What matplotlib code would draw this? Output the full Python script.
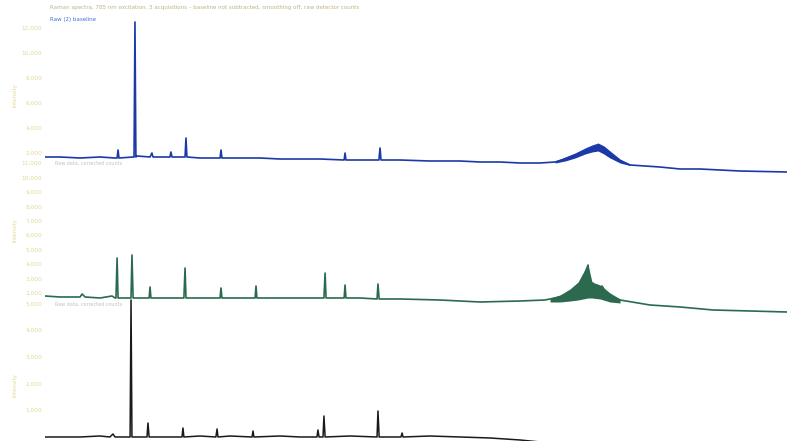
import numpy as np
import matplotlib.pyplot as plt

# Raman shift (cm-1) and intensity (counts)
p1_shift = [200, 265, 351, 437, 502, 511, 515, 519, 580, 584, 588, 592, 597, 653, 661,
            666, 739, 743, 748, 804, 808, 812, 868, 955, 959, 963, 1041, 1127, 1213, 1300,
            1386, 1490, 1494, 1498, 1559, 1640, 1645, 1649, 1731, 1860, 1990, 2076, 2162, 2249, 2335,
            2400, 2443, 2486, 2529, 2559, 2585, 2611, 2637, 2680, 2723, 2852, 2939, 3025, 3197, 3400]
p1_int = [1680, 1680, 1600, 1680, 1600, 1600, 2240, 1600, 1680, 1680, 12480, 1680, 1760, 1680, 2000,
          1680, 1680, 2080, 1680, 1680, 3200, 1680, 1600, 1600, 2240, 1600, 1600, 1600, 1520, 1520,
          1520, 1440, 2000, 1440, 1440, 1440, 2400, 1440, 1440, 1360, 1360, 1280, 1280, 1200, 1200,
          1280, 1520, 1840, 2160, 2320, 2320, 2000, 1680, 1360, 1040, 880, 720, 720, 560, 480]
# noise envelope of the broad band
p1_band_shift = [2400, 2443, 2486, 2529, 2559, 2585, 2611, 2637, 2680, 2723]
p1_band_hi = [1360, 1680, 2000, 2400, 2640, 2800, 2560, 2160, 1520, 1120]
p1_band_lo = [1200, 1360, 1600, 1920, 2080, 2160, 1920, 1600, 1200, 1000]

p2_shift = [200, 265, 351, 360, 373, 437, 489, 502, 506, 511, 515, 567, 571, 575, 580,
            610, 649, 653, 657, 739, 799, 804, 808, 868, 955, 959, 963, 1041, 1106, 1110,
            1114, 1213, 1300, 1403, 1408, 1412, 1490, 1494, 1498, 1559, 1632, 1636, 1641, 1731, 1904,
            2076, 2249, 2356, 2421, 2464, 2499, 2520, 2542, 2550, 2563, 2581, 2602, 2624, 2650, 2680,
            2809, 2939, 3081, 3240, 3400]
p2_int = [1792, 1723, 1723, 1931, 1723, 1654, 1792, 1654, 1654, 4424, 1654, 1654, 1654, 4632, 1654,
          1654, 1654, 2416, 1654, 1654, 1654, 3731, 1654, 1654, 1654, 2346, 1654, 1654, 1654, 2485,
          1654, 1654, 1654, 1654, 3385, 1654, 1654, 2554, 1654, 1654, 1585, 2623, 1585, 1585, 1515,
          1377, 1446, 1515, 1723, 2000, 2485, 3039, 3939, 2208, 2693, 2069, 2485, 1931, 1723, 1515,
          1169, 1031, 823, 754, 684]
p2_band_shift = [2378, 2421, 2464, 2499, 2520, 2542, 2559, 2594, 2637, 2680]
p2_band_hi = [1654, 1862, 2277, 2762, 3385, 3939, 2762, 2554, 2000, 1585]
p2_band_lo = [1377, 1377, 1446, 1515, 1585, 1654, 1654, 1585, 1377, 1308]

p3_shift = [200, 351, 437, 480, 493, 502, 567, 571, 575, 610, 640, 644, 649, 739, 791,
            795, 799, 868, 937, 942, 946, 998, 1093, 1097, 1101, 1214, 1300, 1373, 1377, 1382,
            1399, 1403, 1408, 1515, 1632, 1636, 1641, 1688, 1735, 1740, 1744, 1860, 1990, 2119, 2249,
            2421]
p3_int = [0, 0, 37, 0, 112, 0, 0, 5124, 0, 0, 0, 524, 0, 0, 0,
          337, 0, 37, 0, 299, 0, 37, 0, 224, 0, 37, 0, 0, 262, 0,
          0, 785, 0, 37, 0, 972, 0, 0, 0, 150, 0, 37, 0, -37, -112,
          -262]

p1_ticks = [2000, 4000, 6000, 8000, 10000, 12000]
p2_ticks = [2000, 3000, 4000, 5000, 6000, 7000, 8000, 9000, 10000, 11000]
p3_ticks = [1000, 2000, 3000, 4000, 5000]

W, H = 787, 441
fig = plt.figure(figsize=(W / 100, H / 100), dpi=100)
fig.patch.set_facecolor('white')

left = 45 / W
width = 1 - left
tick_col = '#e3d998'


def make_ax(top_px, bot_px, ylim, ticks):
    ax = fig.add_axes([left, 1 - bot_px / H, width, (bot_px - top_px) / H])
    ax.set_facecolor('none')
    for s in ax.spines.values():
        s.set_visible(False)
    ax.set_xlim(200, 3400)
    ax.set_ylim(*ylim)
    ax.set_xticks([])
    ax.set_yticks(ticks)
    ax.set_yticklabels([f'{t:,}' for t in ticks])
    ax.tick_params(axis='y', length=0, pad=2, labelsize=4.2, labelcolor=tick_col)
    return ax


ax1 = make_ax(20, 176, (160, 12640), p1_ticks)
ax2 = make_ax(160, 316, (407, 11210), p2_ticks)
ax3 = make_ax(296, 441, (-150, 5273), p3_ticks)

blue = '#1b3aa8'
green = '#2b6a4e'
ax1.fill_between(p1_band_shift, p1_band_lo, p1_band_hi, color=blue, lw=0)
ax1.plot(p1_shift, p1_int, color=blue, lw=1.2)

ax2.fill_between(p2_band_shift, p2_band_lo, p2_band_hi, color=green, lw=0)
ax2.plot(p2_shift, p2_int, color=green, lw=1.2)

ax3.plot(p3_shift, p3_int, color='#1a1a1a', lw=1.1)

# faint axis titles
for y_px in (95, 230, 385):
    fig.text(15 / W, 1 - y_px / H, 'Intensity', rotation=90, fontsize=4,
             color=tick_col, ha='center', va='center')

fig.text(50 / W, 1 - 8 / H,
         'Raman spectra, 785 nm excitation, 3 acquisitions \u2013 baseline not subtracted, '
         'smoothing off, raw detector counts',
         fontsize=4, color='#bdb584', ha='left', va='center')
fig.text(50 / W, 1 - 20 / H, 'Raw (2) baseline', fontsize=4, color='#3f72d9',
         ha='left', va='center')
for y_px in (163, 304):
    fig.text(55 / W, 1 - y_px / H, 'Raw data, corrected counts', fontsize=3.5,
             color='#b9c2cc', ha='left', va='center')

fig.savefig('out.png', dpi=100)
